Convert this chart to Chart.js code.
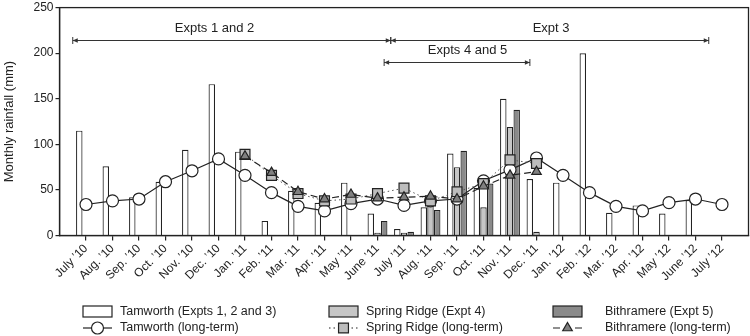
<!DOCTYPE html>
<html>
<head>
<meta charset="utf-8">
<script src="https://cdn.jsdelivr.net/npm/chart.js@4.4.1/dist/chart.umd.min.js"></script>
<style>
  html, body { margin: 0; padding: 0; background: #fff; }
  #wrap { width: 750px; height: 336px; }
</style>
</head>
<body>
<div id="wrap"><canvas id="rainChart" width="750" height="336"></canvas></div>
<script>
// Meses (julio 2010 a julio 2012)
const months = ["July \u201910", "Aug. \u201910", "Sep. \u201910", "Oct. \u201910", "Nov. \u201910", "Dec. \u201910",
    "Jan. \u201911", "Feb. \u201911", "Mar. \u201911", "Apr. \u201911", "May \u201911", "June \u201911",
    "July \u201911", "Aug. \u201911", "Sep. \u201911", "Oct. \u201911", "Nov. \u201911", "Dec. \u201911",
    "Jan. \u201912", "Feb. \u201912", "Mar. \u201912", "Apr. \u201912", "May \u201912", "June \u201912", "July \u201912"];

// Lluvia mensual (mm)
const tamworthRain = [115, 76, 42, 59, 94, 166, 92, 16, 49, 36, 58, 24, 7, 31, 90, 52, 150, 62, 58, 200, 25, 33, 24, 39, null];
const springRidgeRain = [null, null, null, null, null, null, null, null, null, null, null, 3, 3, 36, 75, 31, 119, 4, null, null, null, null, null, null, null];
const bithramereRain = [null, null, null, null, null, null, null, null, null, null, null, 16, 4, 28, 93, 57, 138, null, null, null, null, null, null, null, null];

// Promedios de largo plazo (mm)
const tamworthLongTerm = [34, 38, 40, 59, 71, 84, 66, 47, 32, 27, 35, 40, 33, 38, 40, 60, 72, 85, 66, 47, 32, 27, 36, 40, 34];
const springRidgeLongTerm = [null, null, null, null, null, null, 89, 66, 46, 38, 40, 46, 52, 38, 48, 57, 83, 79, null, null, null, null, null, null, null];
const bithramereLongTerm = [null, null, null, null, null, null, 87, 69, 48, 40, 45, 41, 42, 43, 40, 54, 66, 70, null, null, null, null, null, null, null];

// Periodos de experimentos (en posiciones de mes, 0 = julio 2010)
const periodLabels = ["Expts 1 and 2", "Expt 3", "Expts 4 and 5"];
const periodStart = [-0.5, 11.5, 11.25];
const periodEnd = [11.5, 23.5, 16.75];
const periodLevel = [215, 215, 190];
const periodLabelPos = [4.85, 17.55, 14.4];

const FONT = "'Liberation Sans', Arial, Helvetica, sans-serif";
const INK = '#222';

// Una categoría vacía a cada lado, como en el original
const pad = arr => [null].concat(arr, [null]);
const axisLabels = [''].concat(months, ['']);

const legendItems = [
    { text: 'Tamworth (Expts 1, 2 and 3)', type: 'bar', fill: '#ffffff' },
    { text: 'Tamworth (long-term)', type: 'line', fill: '#ffffff', style: 'circle', radius: 6, dash: [] },
    { text: 'Spring Ridge (Expt 4)', type: 'bar', fill: '#c6c6c6' },
    { text: 'Spring Ridge (long-term)', type: 'line', fill: '#bdbdbd', style: 'rect', radius: 7, dash: [1.5, 3] },
    { text: 'Bithramere (Expt 5)', type: 'bar', fill: '#8a8a8a' },
    { text: 'Bithramere (long-term)', type: 'line', fill: '#808080', style: 'triangle', radius: 5.5, dash: [7, 4] }
];

// Plugin: marco, flechas de periodos y leyenda
const extrasPlugin = {
    id: 'extras',
    afterDatasetsDraw(chart) {
        const ctx = chart.ctx;
        const xs = chart.scales.x;
        const ys = chart.scales.y;
        const area = chart.chartArea;

        ctx.save();
        ctx.strokeStyle = INK;
        ctx.lineWidth = 1.3;
        ctx.strokeRect(area.left, area.top, area.right - area.left, area.bottom - area.top);

        // Flechas
        ctx.strokeStyle = '#333';
        ctx.lineWidth = 1;
        periodLabels.forEach((label, i) => {
            const x1 = xs.getPixelForValue(periodStart[i] + 1);
            const x2 = xs.getPixelForValue(periodEnd[i] + 1);
            const y = Math.round(ys.getPixelForValue(periodLevel[i])) + 0.5;
            ctx.fillStyle = '#333';
            ctx.beginPath();
            ctx.moveTo(x1, y);
            ctx.lineTo(x2, y);
            ctx.stroke();
            [[x1, 1], [x2, -1]].forEach(([x, dir]) => {
                ctx.beginPath();
                ctx.moveTo(x, y - 3.5);
                ctx.lineTo(x, y + 3.5);
                ctx.stroke();
                ctx.beginPath();
                ctx.moveTo(x, y);
                ctx.lineTo(x + dir * 5, y - 2.2);
                ctx.lineTo(x + dir * 5, y + 2.2);
                ctx.closePath();
                ctx.fill();
            });
            ctx.fillStyle = INK;
            ctx.font = '13px ' + FONT;
            ctx.textAlign = 'center';
            ctx.textBaseline = 'middle';
            ctx.fillText(label, xs.getPixelForValue(periodLabelPos[i] + 1), y - 12);
        });
        ctx.restore();
    },
    afterDraw(chart) {
        const ctx = chart.ctx;
        const swatchX = [83, 329, 553];
        const textX = [120, 366, 605];
        const rowY = [311.5, 328];
        ctx.save();
        ctx.font = '12.5px ' + FONT;
        ctx.textBaseline = 'middle';
        ctx.textAlign = 'left';
        legendItems.forEach((item, i) => {
            const col = Math.floor(i / 2);
            const row = i % 2;
            const x = swatchX[col];
            const y = rowY[row];
            ctx.strokeStyle = INK;
            ctx.lineWidth = 1.2;
            if (item.type === 'bar') {
                ctx.fillStyle = item.fill;
                ctx.fillRect(x, y - 5.5, 29, 11);
                ctx.strokeRect(x, y - 5.5, 29, 11);
            } else {
                ctx.setLineDash(item.dash);
                ctx.beginPath();
                ctx.moveTo(x, y);
                ctx.lineTo(x + 29, y);
                ctx.stroke();
                ctx.setLineDash([]);
                ctx.fillStyle = item.fill;
                Chart.helpers.drawPoint(ctx, { pointStyle: item.style, radius: item.radius, rotation: 0, borderWidth: 1.2 }, x + 14.5, y);
            }
            ctx.fillStyle = INK;
            ctx.fillText(item.text, textX[col], y);
        });
        ctx.restore();
    }
};

function crearGrafico() {
    const ctx = document.getElementById('rainChart').getContext('2d');
    const lastIndex = axisLabels.length - 1;

    const barBase = {
        type: 'bar',
        borderColor: INK,
        borderWidth: 1.2,
        categoryPercentage: 0.76,
        barPercentage: 0.96,
        order: 10
    };
    const lineBase = {
        type: 'line',
        borderColor: INK,
        borderWidth: 1.2,
        pointBorderColor: INK,
        pointBorderWidth: 1.2,
        spanGaps: false,
        tension: 0
    };

    new Chart(ctx, {
        data: {
            labels: axisLabels,
            datasets: [
                Object.assign({}, barBase, { label: 'Tamworth (Expts 1, 2 and 3)', data: pad(tamworthRain), backgroundColor: '#ffffff' }),
                Object.assign({}, barBase, { label: 'Spring Ridge (Expt 4)', data: pad(springRidgeRain), backgroundColor: '#c6c6c6' }),
                Object.assign({}, barBase, { label: 'Bithramere (Expt 5)', data: pad(bithramereRain), backgroundColor: '#8a8a8a' }),
                Object.assign({}, lineBase, { label: 'Tamworth (long-term)', data: pad(tamworthLongTerm), pointStyle: 'circle', pointRadius: 6, pointBackgroundColor: '#ffffff', order: 3 }),
                Object.assign({}, lineBase, { label: 'Spring Ridge (long-term)', data: pad(springRidgeLongTerm), pointStyle: 'rect', pointRadius: 7, pointBackgroundColor: '#bdbdbd', borderColor: '#555', borderWidth: 1, borderDash: [1.5, 3], order: 2 }),
                Object.assign({}, lineBase, { label: 'Bithramere (long-term)', data: pad(bithramereLongTerm), pointStyle: 'triangle', pointRadius: 5.5, pointBackgroundColor: '#808080', borderDash: [7, 4], order: 1 })
            ]
        },
        options: {
            responsive: false,
            animation: false,
            layout: { autoPadding: false, padding: { top: 7.6, right: 1.5, left: 0, bottom: 0 } },
            plugins: {
                legend: { display: false },
                tooltip: { enabled: false }
            },
            scales: {
                x: {
                    offset: false,
                    grid: {
                        display: true, drawOnChartArea: false, offset: false, tickLength: 5, lineWidth: 1.2,
                        color: c => (c.index === 0 || c.index === lastIndex) ? 'rgba(0,0,0,0)' : INK
                    },
                    border: { display: true, color: INK, width: 1.3 },
                    ticks: { color: INK, font: { family: FONT, size: 12 }, minRotation: 45, maxRotation: 45, autoSkip: false, padding: 1 },
                    afterFit(scale) {
                        scale.height = 100.5;
                        scale.paddingLeft = 0;
                        scale.paddingRight = 0;
                    }
                },
                y: {
                    min: 0,
                    max: 250,
                    grid: { display: true, drawOnChartArea: false, tickLength: 4, color: INK, lineWidth: 1.2 },
                    border: { display: true, color: INK, width: 1.3 },
                    ticks: { stepSize: 50, color: INK, font: { family: FONT, size: 12 }, padding: 2 },
                    title: { display: true, text: 'Monthly rainfall (mm)', color: INK, font: { family: FONT, size: 13 }, padding: { top: 2, bottom: 0 } },
                    afterFit(scale) {
                        scale.width = 59.5;
                        scale.paddingTop = 0;
                        scale.paddingBottom = 0;
                    }
                }
            }
        },
        plugins: [extrasPlugin]
    });
}

window.onload = crearGrafico;
</script>
</body>
</html>
